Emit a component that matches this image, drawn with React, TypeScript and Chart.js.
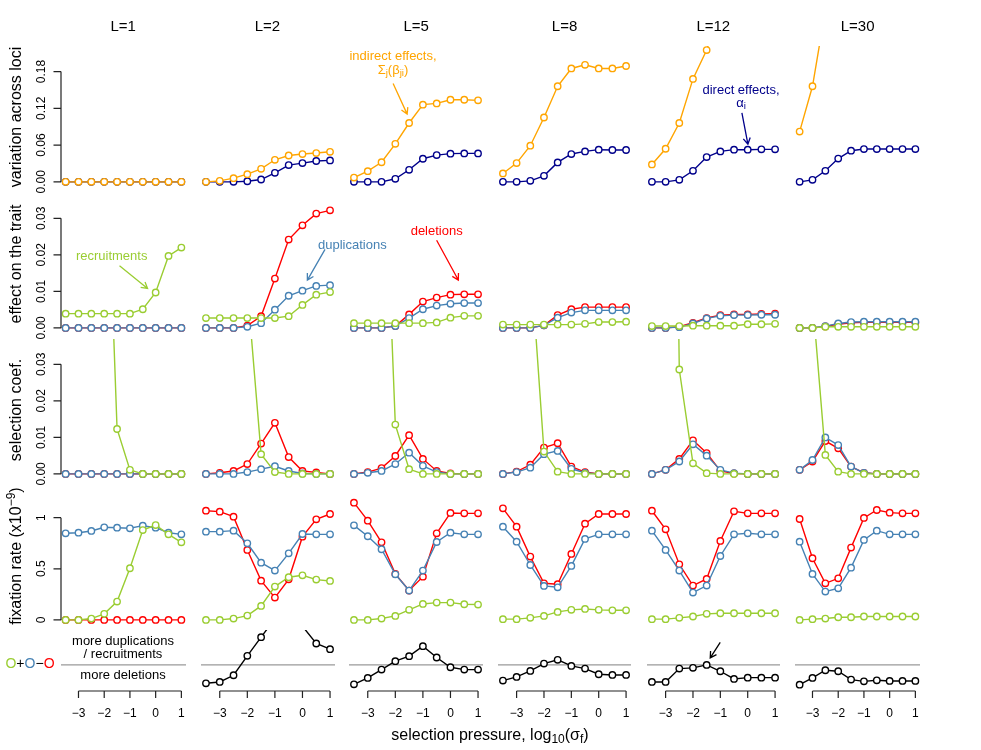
import React, { useEffect, useRef } from "react";
import { Chart, registerables } from "chart.js";

Chart.register(...registerables);

// ---------------- data ----------------
const X_VALUES = [-3.5, -3, -2.5, -2, -1.5, -1, -0.5, 0, 0.5, 1];
const L_TITLES = ["L=1", "L=2", "L=5", "L=8", "L=12", "L=30"];
const X_TICKS = [-3, -2, -1, 0, 1];
const X_TICK_LABELS = ["\u22123", "\u22122", "\u22121", "0", "1"];
const VAR_TICKS = [0, 0.06, 0.12, 0.18];
const VAR_TICK_LABELS = ["0.00", "0.06", "0.12", "0.18"];
const EFFECT_TICKS = [0, 0.01, 0.02, 0.03];
const EFFECT_TICK_LABELS = ["0.00", "0.01", "0.02", "0.03"];
const SEL_TICKS = [0, 0.01, 0.02, 0.03];
const SEL_TICK_LABELS = ["0.00", "0.01", "0.02", "0.03"];
const FIX_TICKS = [0, 0.5, 1];
const FIX_TICK_LABELS = ["0", "0.5", "1"];

// row 1: variation across loci (one array per L)
const indirectEffects: number[][] = [
  [0, 0, 0, 0, 0, 0, 0, 0, 0, 0],
  [0, 0.0016, 0.006, 0.0126, 0.0213, 0.036, 0.043, 0.0454, 0.047, 0.049],
  [0.007, 0.0175, 0.032, 0.062, 0.096, 0.126, 0.128, 0.134, 0.134, 0.133],
  [0.0137, 0.0306, 0.059, 0.105, 0.156, 0.185, 0.191, 0.185, 0.185, 0.189],
  [0.0284, 0.054, 0.096, 0.168, 0.215, 0.29, 0.33, 0.35, 0.36, 0.36],
  [0.082, 0.156, 0.28, 0.38, 0.45, 0.5, 0.52, 0.53, 0.53, 0.53],
];
const directEffects: number[][] = [
  [0, 0, 0, 0, 0, 0, 0, 0, 0, 0],
  [0, 0, 0, 0.001, 0.0038, 0.0148, 0.0273, 0.0306, 0.034, 0.035],
  [0, 0, 0, 0.005, 0.0197, 0.0377, 0.0437, 0.046, 0.0464, 0.0464],
  [0, 0, 0.0016, 0.0098, 0.0317, 0.0454, 0.0497, 0.0525, 0.052, 0.052],
  [0, 0, 0.0033, 0.018, 0.0405, 0.0497, 0.0525, 0.0525, 0.053, 0.053],
  [0, 0.0033, 0.018, 0.038, 0.0508, 0.0535, 0.0535, 0.0535, 0.0535, 0.0535],
];

// row 2: effect on the trait
const recruitEffect: number[][] = [
  [0.0039, 0.0039, 0.0039, 0.0039, 0.0039, 0.0039, 0.0051, 0.0097, 0.0197, 0.022],
  [0.0027, 0.0027, 0.0027, 0.0027, 0.0027, 0.0027, 0.0032, 0.0063, 0.0091, 0.0098],
  [0.0013, 0.0013, 0.0013, 0.0013, 0.0013, 0.0013, 0.0015, 0.0028, 0.0033, 0.0033],
  [0.0009, 0.0009, 0.0009, 0.0009, 0.0009, 0.0009, 0.0011, 0.0016, 0.0016, 0.0017],
  [0.0005, 0.0005, 0.0005, 0.0006, 0.0006, 0.0006, 0.0006, 0.001, 0.001, 0.0011],
  [0, 0, 0.0003, 0.0003, 0.0003, 0.0003, 0.0003, 0.0003, 0.0003, 0.0003],
];
const dupEffect: number[][] = [
  [0, 0, 0, 0, 0, 0, 0, 0, 0, 0],
  [0, 0, 0, 0.0003, 0.0013, 0.005, 0.0088, 0.0102, 0.0115, 0.0117],
  [0, 0, 0, 0.0005, 0.0027, 0.0051, 0.0061, 0.0066, 0.0068, 0.0068],
  [0, 0, 0, 0.0007, 0.0028, 0.0042, 0.0048, 0.0048, 0.0048, 0.0048],
  [0, 0, 0.0002, 0.0012, 0.0026, 0.0033, 0.0035, 0.0035, 0.0036, 0.0036],
  [0, 0, 0.0005, 0.0012, 0.0016, 0.0017, 0.0017, 0.0017, 0.0017, 0.0017],
];
const delEffect: number[][] = [
  [0, 0, 0, 0, 0, 0, 0, 0, 0, 0],
  [0, 0, 0, 0.0006, 0.0032, 0.0135, 0.0242, 0.0281, 0.0313, 0.0322],
  [0, 0, 0, 0.0005, 0.0037, 0.0072, 0.0083, 0.0091, 0.0092, 0.0092],
  [0, 0, 0, 0.0007, 0.0035, 0.0051, 0.0057, 0.0057, 0.0057, 0.0057],
  [0, 0, 0.0003, 0.0014, 0.0027, 0.0035, 0.0037, 0.0037, 0.0038, 0.0039],
  [0, 0, 0.0004, 0.001, 0.0014, 0.0015, 0.0015, 0.0015, 0.0015, 0.0015],
];

// row 3: selection coefficient
const recruitSel: number[][] = [
  [0.5, 0.4, 0.25, 0.11, 0.0123, 0.0011, 0, 0, 0, 0],
  [0.3, 0.2, 0.12, 0.051, 0.0054, 0.0005, 0, 0, 0, 0],
  [0.3, 0.2, 0.11, 0.0135, 0.0013, 0, 0, 0, 0, 0],
  [0.25, 0.15, 0.06, 0.0061, 0.0006, 0, 0, 0, 0, 0],
  [0.5, 0.3, 0.0286, 0.0029, 0.0002, 0, 0, 0, 0, 0],
  [0.15, 0.048, 0.0052, 0.0006, 0, 0, 0, 0, 0, 0],
];
const dupSel: number[][] = [
  [0, 0, 0, 0, 0, 0, 0, 0, 0, 0],
  [0, 0, 0, 0.0005, 0.0013, 0.0021, 0.0008, 0.0001, 0, 0],
  [0, 0.0003, 0.0008, 0.0027, 0.0058, 0.0022, 0.0005, 0, 0, 0],
  [0, 0.0005, 0.0017, 0.0054, 0.0063, 0.0014, 0.0003, 0, 0, 0],
  [0, 0.0011, 0.0034, 0.0081, 0.005, 0.0011, 0.0002, 0, 0, 0],
  [0.0011, 0.0038, 0.01, 0.0079, 0.002, 0.0003, 0, 0, 0, 0],
];
const delSel: number[][] = [
  [0, 0, 0, 0, 0, 0, 0, 0, 0, 0],
  [0, 0.0003, 0.0008, 0.0027, 0.0083, 0.014, 0.0046, 0.0008, 0.0004, 0],
  [0, 0.0005, 0.0016, 0.0049, 0.0106, 0.0041, 0.0008, 0.0001, 0, 0],
  [0, 0.0006, 0.0025, 0.0072, 0.0084, 0.002, 0.0005, 0, 0, 0],
  [0, 0.0011, 0.0041, 0.0092, 0.0057, 0.0008, 0.0001, 0, 0, 0],
  [0.0011, 0.0034, 0.009, 0.007, 0.002, 0.0003, 0, 0, 0, 0],
];

// row 4: fixation rate (x1e-9)
const recruitFix: number[][] = [
  [0, 0, 0.013, 0.059, 0.179, 0.505, 0.879, 0.928, 0.837, 0.759],
  [0, 0, 0.013, 0.042, 0.137, 0.326, 0.417, 0.436, 0.394, 0.381],
  [0, 0, 0.013, 0.039, 0.098, 0.156, 0.169, 0.169, 0.153, 0.15],
  [0.007, 0.007, 0.02, 0.039, 0.078, 0.098, 0.107, 0.098, 0.094, 0.094],
  [0.007, 0.007, 0.02, 0.033, 0.059, 0.065, 0.065, 0.065, 0.065, 0.065],
  [0, 0.007, 0.013, 0.026, 0.026, 0.033, 0.033, 0.033, 0.033, 0.033],
];
const dupFix: number[][] = [
  [0.847, 0.853, 0.87, 0.906, 0.902, 0.896, 0.922, 0.902, 0.853, 0.837],
  [0.863, 0.863, 0.873, 0.749, 0.56, 0.482, 0.651, 0.84, 0.837, 0.837],
  [0.925, 0.818, 0.691, 0.446, 0.287, 0.482, 0.762, 0.853, 0.837, 0.837],
  [0.912, 0.765, 0.537, 0.332, 0.319, 0.528, 0.792, 0.837, 0.837, 0.837],
  [0.873, 0.684, 0.482, 0.267, 0.336, 0.625, 0.837, 0.847, 0.837, 0.837],
  [0.765, 0.45, 0.277, 0.309, 0.511, 0.782, 0.873, 0.837, 0.837, 0.837],
];
const delFix: number[][] = [
  [0, 0, 0, 0, 0, 0, 0, 0, 0, 0],
  [1.068, 1.059, 1.01, 0.684, 0.384, 0.218, 0.397, 0.814, 0.984, 1.036],
  [1.147, 0.971, 0.759, 0.45, 0.287, 0.423, 0.847, 1.046, 1.042, 1.042],
  [1.091, 0.912, 0.619, 0.358, 0.349, 0.645, 0.941, 1.036, 1.036, 1.036],
  [1.068, 0.886, 0.544, 0.336, 0.401, 0.772, 1.062, 1.042, 1.042, 1.042],
  [0.987, 0.603, 0.358, 0.407, 0.707, 0.997, 1.075, 1.049, 1.042, 1.042],
];

// row 5: balance (green + blue - red)
const balance: (number | null)[][] = [
  [null, null, null, null, null, null, null, null, null, null],
  [-0.179, -0.166, -0.101, 0.088, 0.27, 0.45, 0.5, 0.376, 0.208, 0.153],
  [-0.189, -0.127, -0.046, 0.036, 0.085, 0.182, 0.072, -0.023, -0.046, -0.046],
  [-0.153, -0.117, -0.059, 0.013, 0.049, -0.01, -0.036, -0.091, -0.098, -0.098],
  [-0.166, -0.166, -0.036, -0.029, 0, -0.062, -0.137, -0.124, -0.124, -0.124],
  [-0.192, -0.127, -0.052, -0.062, -0.143, -0.16, -0.15, -0.156, -0.156, -0.156],
];

// ---------------- styles & layout ----------------
const ORANGE = "#FFA500";
const NAVY = "#00008B";
const GREEN = "#9ACD32";
const STEEL = "#4682B4";
const RED = "#FF0000";
const BLACK = "#000000";
const FONT = "'Liberation Sans', Arimo, Arial, Helvetica, sans-serif";

const COLS: [number, number][] = [
  [60.8, 185.6],
  [200.6, 334.3],
  [349.3, 483.0],
  [498.0, 631.2],
  [646.6, 780.0],
  [795.2, 920.0],
];
const ROWS = [
  { top: 47.9, bottom: 186.9, min: -0.0084, max: 0.2184 },
  { top: 195.0, bottom: 332.8, min: -0.0014, max: 0.0364 },
  { top: 340.9, bottom: 479.1, min: -0.0014, max: 0.0364 },
  { top: 487.0, bottom: 625.1, min: -0.05, max: 1.3 },
  { top: 632.0, bottom: 690.7, min: -0.254, max: 0.32 },
];
const X_MIN = -3.68;
const X_MAX = 1.18;
const MARGIN = 45;

// annotation arrows in data coordinates of their panel
const ARROWS = [
  { row: 0, col: 2, x1: -2.08, y1: 0.1606, x2: -1.571, y2: 0.1105, color: ORANGE },
  { row: 0, col: 4, x1: -0.212, y1: 0.1126, x2: 0.007, y2: 0.0615, color: NAVY },
  { row: 1, col: 0, x1: -1.405, y1: 0.017, x2: -0.315, y2: 0.0108, color: GREEN },
  { row: 1, col: 1, x1: 0.818, y1: 0.0215, x2: 0.178, y2: 0.0131, color: STEEL },
  { row: 1, col: 2, x1: -0.502, y1: 0.024, x2: 0.284, y2: 0.0131, color: RED },
  { row: 4, col: 4, x1: -1.004, y1: 0.219, x2: -1.369, y2: 0.068, color: BLACK },
];

const rAxesPlugin = {
  id: "rAxes",
  beforeDatasetsDraw(chart: any, _a: any, opts: any) {
    if (!opts || !opts.zeroLine) return;
    const { ctx, chartArea } = chart;
    const y = chart.scales.y.getPixelForValue(0);
    ctx.save();
    ctx.strokeStyle = "#9a9a9a";
    ctx.lineWidth = 1.3;
    ctx.beginPath();
    ctx.moveTo(chartArea.left, y);
    ctx.lineTo(chartArea.right, y);
    ctx.stroke();
    ctx.restore();
  },
  afterDatasetsDraw(chart: any, _a: any, opts: any) {
    if (!opts) return;
    const { ctx, chartArea } = chart;
    const sx = chart.scales.x;
    const sy = chart.scales.y;
    ctx.save();
    ctx.strokeStyle = "#222";
    ctx.fillStyle = "#000";
    ctx.lineWidth = 1.2;
    ctx.font = "12px " + FONT;
    if (opts.yTicks) {
      const x0 = chartArea.left;
      const ps = opts.yTicks.map((v: number) => sy.getPixelForValue(v));
      ctx.beginPath();
      ctx.moveTo(x0, ps[0]);
      ctx.lineTo(x0, ps[ps.length - 1]);
      ps.forEach((p: number) => {
        ctx.moveTo(x0, p);
        ctx.lineTo(x0 - 7.5, p);
      });
      ctx.stroke();
      ctx.textAlign = "center";
      ctx.textBaseline = "alphabetic";
      ps.forEach((p: number, i: number) => {
        ctx.save();
        ctx.translate(x0 - 16, p);
        ctx.rotate(-Math.PI / 2);
        ctx.fillText(opts.yLabels[i], 0, 0);
        ctx.restore();
      });
    }
    if (opts.xTicks) {
      const y0 = chartArea.bottom;
      const ps = opts.xTicks.map((v: number) => sx.getPixelForValue(v));
      ctx.beginPath();
      ctx.moveTo(ps[0], y0);
      ctx.lineTo(ps[ps.length - 1], y0);
      ps.forEach((p: number) => {
        ctx.moveTo(p, y0);
        ctx.lineTo(p, y0 + 7);
      });
      ctx.stroke();
      ctx.textAlign = "center";
      ctx.textBaseline = "alphabetic";
      ps.forEach((p: number, i: number) => {
        ctx.fillText(opts.xLabels[i], p, y0 + 25.5);
      });
    }
    (opts.arrows || []).forEach((a: any) => {
      const x1 = sx.getPixelForValue(a.x1);
      const y1 = sy.getPixelForValue(a.y1);
      const x2 = sx.getPixelForValue(a.x2);
      const y2 = sy.getPixelForValue(a.y2);
      const ang = Math.atan2(y2 - y1, x2 - x1);
      const hl = 7;
      ctx.strokeStyle = a.color;
      ctx.lineWidth = 1.3;
      ctx.beginPath();
      ctx.moveTo(x1, y1);
      ctx.lineTo(x2, y2);
      ctx.moveTo(x2 - hl * Math.cos(ang - Math.PI / 6), y2 - hl * Math.sin(ang - Math.PI / 6));
      ctx.lineTo(x2, y2);
      ctx.lineTo(x2 - hl * Math.cos(ang + Math.PI / 6), y2 - hl * Math.sin(ang + Math.PI / 6));
      ctx.stroke();
    });
    ctx.restore();
  },
};

type Series = { values: (number | null)[]; color: string };

function Panel(props: { row: number; col: number; series: Series[]; axes: any }) {
  const ref = useRef<HTMLCanvasElement>(null);
  const [l, r] = COLS[props.col];
  const rowDef = ROWS[props.row];
  const left = Math.round(l - MARGIN);
  const top = Math.round(rowDef.top - MARGIN);
  const width = Math.round(r - l) + 2 * MARGIN;
  const height = Math.round(rowDef.bottom - rowDef.top) + 2 * MARGIN;

  useEffect(() => {
    const canvas = ref.current;
    if (!canvas) return;
    const chart = new Chart(canvas, {
      type: "line",
      data: {
        datasets: props.series.map((s) => ({
          data: X_VALUES.map((x, i) => ({ x, y: s.values[i] })),
          borderColor: s.color,
          backgroundColor: "#ffffff",
          pointBorderColor: s.color,
          pointBackgroundColor: "#ffffff",
          pointRadius: 3.2,
          pointBorderWidth: 1.4,
          borderWidth: 1.4,
          tension: 0,
          fill: false,
          spanGaps: false,
          clip: { left: 8, right: 8, top: 2, bottom: 8 },
        })),
      },
      options: {
        animation: false,
        responsive: false,
        events: [],
        layout: { padding: { left: MARGIN, right: MARGIN, top: MARGIN, bottom: MARGIN } },
        scales: {
          x: { type: "linear", min: X_MIN, max: X_MAX, display: false },
          y: { type: "linear", min: rowDef.min, max: rowDef.max, display: false },
        },
        plugins: {
          legend: { display: false },
          tooltip: { enabled: false },
          title: { display: false },
          rAxes: props.axes,
        } as any,
      },
      plugins: [rAxesPlugin as any],
    });
    return () => chart.destroy();
  }, []);

  return (
    <canvas
      ref={ref}
      width={width}
      height={height}
      style={{ position: "absolute", left, top, width, height }}
    />
  );
}

function Label(props: { x: number; y: number; size: number; color?: string; rotate?: boolean; lh?: number; children: any }) {
  return (
    <div
      style={{
        position: "absolute",
        left: props.x,
        top: props.y,
        transform: "translate(-50%,-50%)" + (props.rotate ? " rotate(-90deg)" : ""),
        fontFamily: FONT,
        fontSize: props.size,
        lineHeight: (props.lh || Math.round(props.size * 1.15)) + "px",
        color: props.color || "#000",
        whiteSpace: "nowrap",
        textAlign: "center",
      }}
    >
      {props.children}
    </div>
  );
}

const subStyle: React.CSSProperties = { fontSize: "0.75em", verticalAlign: "-0.25em", lineHeight: 0 };
const supStyle: React.CSSProperties = { fontSize: "0.75em", verticalAlign: "0.5em", lineHeight: 0 };

export default function App() {
  const panels: any[] = [];
  for (let c = 0; c < 6; c++) {
    const yAxis = c === 0;
    const arrowsFor = (row: number) => ARROWS.filter((a) => a.row === row && a.col === c);
    panels.push(
      <Panel key={"r0c" + c} row={0} col={c}
        series={[{ values: indirectEffects[c], color: ORANGE }, { values: directEffects[c], color: NAVY }]}
        axes={{ yTicks: yAxis ? VAR_TICKS : null, yLabels: VAR_TICK_LABELS, arrows: arrowsFor(0) }} />
    );
    panels.push(
      <Panel key={"r1c" + c} row={1} col={c}
        series={[{ values: recruitEffect[c], color: GREEN }, { values: dupEffect[c], color: STEEL }, { values: delEffect[c], color: RED }]}
        axes={{ yTicks: yAxis ? EFFECT_TICKS : null, yLabels: EFFECT_TICK_LABELS, arrows: arrowsFor(1) }} />
    );
    panels.push(
      <Panel key={"r2c" + c} row={2} col={c}
        series={[{ values: recruitSel[c], color: GREEN }, { values: dupSel[c], color: STEEL }, { values: delSel[c], color: RED }]}
        axes={{ yTicks: yAxis ? SEL_TICKS : null, yLabels: SEL_TICK_LABELS, arrows: arrowsFor(2) }} />
    );
    panels.push(
      <Panel key={"r3c" + c} row={3} col={c}
        series={[{ values: recruitFix[c], color: GREEN }, { values: dupFix[c], color: STEEL }, { values: delFix[c], color: RED }]}
        axes={{ yTicks: yAxis ? FIX_TICKS : null, yLabels: FIX_TICK_LABELS, arrows: arrowsFor(3) }} />
    );
    panels.push(
      <Panel key={"r4c" + c} row={4} col={c}
        series={[{ values: balance[c], color: BLACK }]}
        axes={{ zeroLine: true, xTicks: X_TICKS, xLabels: X_TICK_LABELS, arrows: arrowsFor(4) }} />
    );
  }

  const colCenter = (c: number) => (COLS[c][0] + COLS[c][1]) / 2;

  return (
    <div style={{ position: "absolute", left: 0, top: 0, width: 981, height: 750, background: "#fff", overflow: "hidden" }}>
      {panels}
      {L_TITLES.map((t, c) => (
        <Label key={t} x={colCenter(c)} y={25} size={15}>{t}</Label>
      ))}
      <Label x={16} y={117.4} size={16} rotate>variation across loci</Label>
      <Label x={16} y={264} size={16} rotate>effect on the trait</Label>
      <Label x={16} y={410} size={16} rotate>selection coef.</Label>
      <Label x={16} y={556} size={16} rotate>
        fixation rate (x10<span style={supStyle}>{"\u22129"}</span>)
      </Label>
      <Label x={490} y={735} size={16}>
        selection pressure, log<span style={subStyle}>10</span>(σ<span style={subStyle}>f</span>)
      </Label>
      <Label x={30} y={663} size={14}>
        <span style={{ color: GREEN }}>O</span>+<span style={{ color: STEEL }}>O</span>{"\u2212"}
        <span style={{ color: RED }}>O</span>
      </Label>
      <Label x={123} y={647.5} size={13} lh={13.6}>
        more duplications
        <br />/ recruitments
      </Label>
      <Label x={123} y={674} size={13}>more deletions</Label>
      <Label x={393} y={62.5} size={13} color={ORANGE} lh={14.5}>
        indirect effects,
        <br />Σ<span style={subStyle}>j</span>(β<span style={subStyle}>ji</span>)
      </Label>
      <Label x={741} y={96} size={13} color={NAVY} lh={12.5}>
        direct effects,
        <br />α<span style={subStyle}>i</span>
      </Label>
      <Label x={111.7} y={255} size={13} color={GREEN}>recruitments</Label>
      <Label x={352.3} y={244} size={13} color={STEEL}>duplications</Label>
      <Label x={436.7} y={230} size={13} color={RED}>deletions</Label>
    </div>
  );
}
